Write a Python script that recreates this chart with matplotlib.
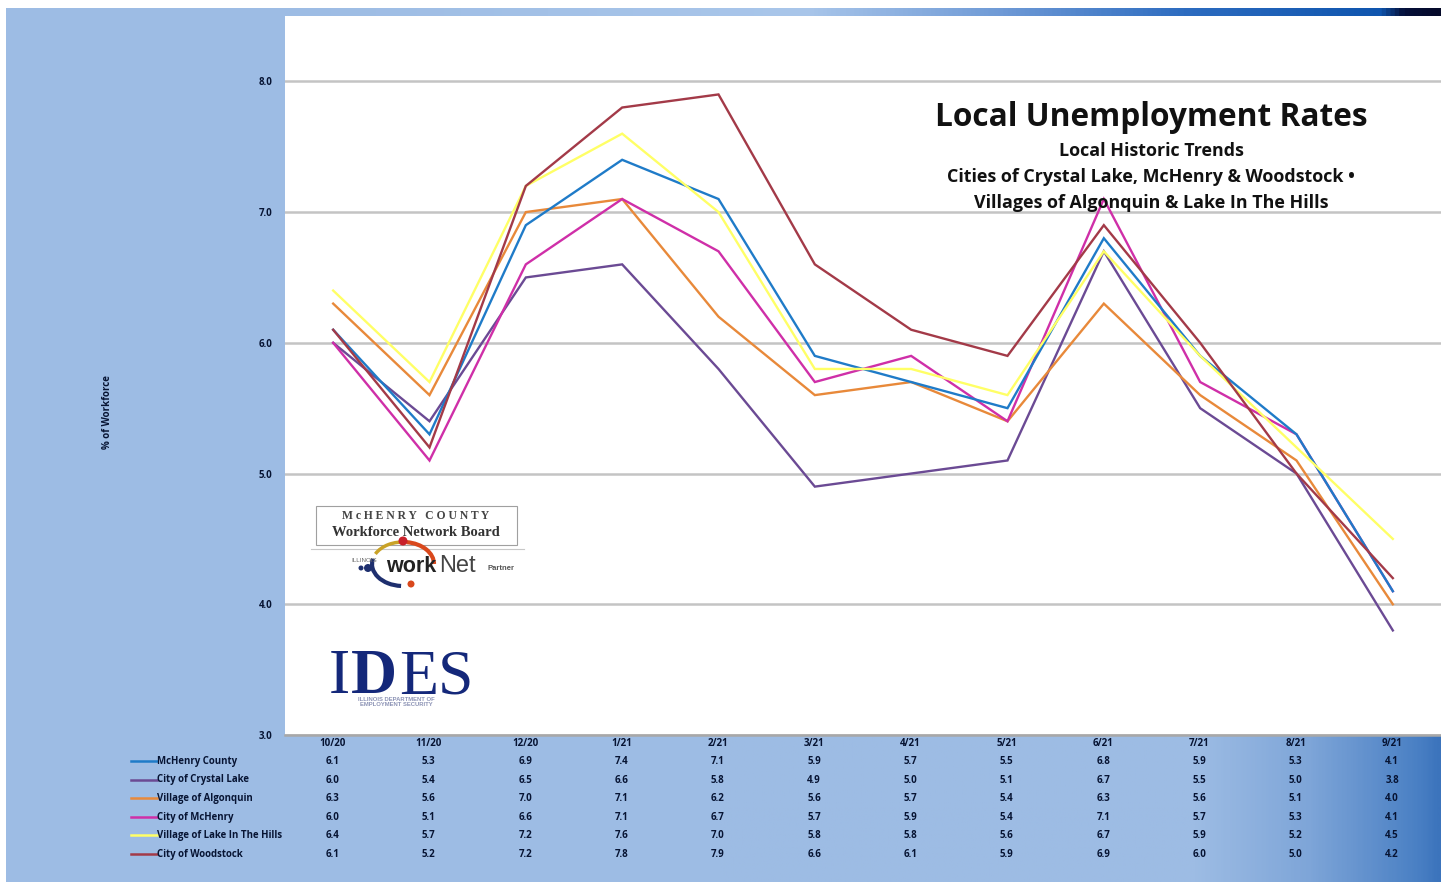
import numpy as np
import matplotlib
matplotlib.use("Agg")
import matplotlib.pyplot as plt
from matplotlib.colors import LinearSegmentedColormap
from matplotlib.patches import Rectangle, Arc, Circle

months = ["10/20","11/20","12/20","1/21","2/21","3/21","4/21","5/21","6/21","7/21","8/21","9/21"]
names = ["McHenry County","City of Crystal Lake","Village of Algonquin","City of McHenry","Village of Lake In The Hills","City of Woodstock"]
mchenry_county = [6.1,5.3,6.9,7.4,7.1,5.9,5.7,5.5,6.8,5.9,5.3,4.1]
crystal_lake   = [6.0,5.4,6.5,6.6,5.8,4.9,5.0,5.1,6.7,5.5,5.0,3.8]
algonquin      = [6.3,5.6,7.0,7.1,6.2,5.6,5.7,5.4,6.3,5.6,5.1,4.0]
city_mchenry   = [6.0,5.1,6.6,7.1,6.7,5.7,5.9,5.4,7.1,5.7,5.3,4.1]
lake_hills     = [6.4,5.7,7.2,7.6,7.0,5.8,5.8,5.6,6.7,5.9,5.2,4.5]
woodstock      = [6.1,5.2,7.2,7.8,7.9,6.6,6.1,5.9,6.9,6.0,5.0,4.2]
series = [mchenry_county,crystal_lake,algonquin,city_mchenry,lake_hills,woodstock]
colors = ["#1F7BC8","#6B4A94","#E8893A","#CF2FA8","#FFFF66","#A33A48"]
draw_order = [1,2,3,0,4,5]
yticks = [3,4,5,6,7,8]
W,H = 1441,884
FONT = ["Open Sans","DejaVu Sans"]
DK = "#071433"

fig = plt.figure(figsize=(W/100,H/100),dpi=100,facecolor="white")
bg = fig.add_axes([0,0,1,1],zorder=0)
bg.set_xlim(0,W); bg.set_ylim(H,0); bg.axis("off")
bg.add_patch(Rectangle((6,8),W-6,874,fc="#9DBCE4",ec="none"))
bot = LinearSegmentedColormap.from_list("b",[(0,"#9DBCE4"),(.66,"#9DBCE4"),(.82,"#7EA5D8"),(.97,"#4A80C4"),(1,"#3C74BC")])
bg.imshow(np.linspace(0,1,400)[None,:],cmap=bot,extent=(720,W,882,735),aspect="auto",zorder=1)
top = LinearSegmentedColormap.from_list("t",[(0,"#9DBCE4"),(.45,"#A9C6EA"),(.62,"#6F9AD6"),(.78,"#2D6CC0"),(.95,"#0F55AE"),(.97,"#05103A"),(1,"#050A2A")])
bg.imshow(np.linspace(0,1,800)[None,:],cmap=top,extent=(285,W,16,8),aspect="auto",zorder=1)
bg.set_xlim(0,W); bg.set_ylim(H,0)

ax = fig.add_axes([285/W,1-735/H,(W-285)/W,(735-16)/H],zorder=2,facecolor="white")
x = np.arange(len(months))
for i in draw_order:
    ax.plot(x,series[i],color=colors[i],lw=1.7,zorder=3,solid_joinstyle="miter")
ax.set_xlim(-0.5,len(months)-0.5)
ax.set_ylim(3,8.5)
ax.set_yticks(yticks)
ax.set_yticklabels([f"{v:.1f}" for v in yticks],fontsize=7,fontweight="bold",color=DK,family=FONT)
ax.tick_params(axis="y",length=0,pad=9)
ax.set_xticks([])
ax.grid(axis="y",color="#C4C4C4",lw=1.8)
ax.set_axisbelow(True)
for s in ["top","right","left"]:
    ax.spines[s].set_visible(False)
ax.spines["bottom"].set_color("#A8A8A8"); ax.spines["bottom"].set_linewidth(1.8)

# text layer in pixel coordinates
ov = fig.add_axes([0,0,1,1],zorder=3)
ov.set_xlim(0,W); ov.set_ylim(H,0); ov.axis("off"); ov.patch.set_alpha(0)
ov.text(107,412,"% of Workforce",rotation=90,ha="center",va="center",fontsize=7,fontweight="bold",color=DK,family=FONT)

for j,m in enumerate(months):
    px = ax.transData.transform((j,0))[0] - 0.7
    ov.text(px,743.5,m,ha="center",va="center",fontsize=7,fontweight="bold",color=DK,family=FONT)
    for i,s in enumerate(series):
        ov.text(px,761.5+i*18.6,f"{s[j]:.1f}",ha="center",va="center",fontsize=7,fontweight="bold",color=DK,family=FONT)
for i,n in enumerate(names):
    yy = 761+i*18.6
    ov.plot([131,157],[yy,yy],color=colors[i],lw=1.8)
    ov.text(157,yy+0.3,n,ha="left",va="center",fontsize=6.9,fontweight="bold",color=DK,family=FONT)

ov.text(1151,117,"Local Unemployment Rates",ha="center",va="center",fontsize=22.8,fontweight="bold",color="#111111",family=FONT)
ov.text(1151,151,"Local Historic Trends",ha="center",va="center",fontsize=12.9,fontweight="bold",color="#111111",family=FONT)
ov.text(1151,177,"Cities of Crystal Lake, McHenry & Woodstock •",ha="center",va="center",fontsize=12.9,fontweight="bold",color="#111111",family=FONT)
ov.text(1151,203,"Villages of Algonquin & Lake In The Hills",ha="center",va="center",fontsize=12.9,fontweight="bold",color="#111111",family=FONT)

# Workforce board logo
ov.add_patch(Rectangle((316,506),201,39,fc="white",ec="#A0A0A0",lw=0.8,zorder=4))
ov.plot([311,524],[549,549],color="#C8C8C8",lw=0.8,zorder=4)
ov.text(416,516,"M c H E N R Y   C O U N T Y",ha="center",va="center",fontsize=8.4,fontweight="bold",family="Liberation Serif",color="#444444",zorder=5)
ov.text(416,532,"Workforce Network Board",ha="center",va="center",fontsize=10.5,fontweight="bold",family="Liberation Serif",color="#333333",zorder=5)
ov.add_patch(Arc((403,564),62,44,theta1=95,theta2=190,color="#1E2F6E",lw=3,zorder=5))
ov.add_patch(Arc((403,564),62,44,theta1=200,theta2=280,color="#C9A227",lw=2.5,zorder=5))
ov.add_patch(Arc((403,564),62,44,theta1=280,theta2=360,color="#D9481C",lw=3,zorder=5))
ov.add_patch(Circle((403,541),4.5,fc="#C8202A",ec="none",zorder=5))
ov.add_patch(Circle((411,584),3.5,fc="#D9481C",ec="none",zorder=5))
ov.add_patch(Circle((368,568),4,fc="#1E2F6E",ec="none",zorder=5))
ov.add_patch(Circle((361,568),2.5,fc="#1E2F6E",ec="none",zorder=5))
ov.text(386,566,"work",ha="left",va="center",fontsize=15.5,fontweight="bold",family="Liberation Sans",color="#222222",zorder=6)
ov.text(439,566,"Net",ha="left",va="center",fontsize=17,family="Liberation Sans",color="#444444",zorder=6)
ov.text(488,569,"Partner",ha="left",va="center",fontsize=5.5,fontweight="bold",family="Liberation Sans",color="#555555",zorder=6)
ov.text(351,560,"ILLINOIS",ha="left",va="center",fontsize=4.5,family="Liberation Sans",color="#666666",zorder=6)

# IDES logo
ov.text(329,693,"I",ha="left",va="baseline",fontsize=46,family="Liberation Serif",color="#14287A",zorder=5)
ov.text(351,693,"D",ha="left",va="baseline",fontsize=46,fontweight="bold",family="Liberation Serif",color="#14287A",zorder=5)
ov.text(399,693,"ES",ha="left",va="baseline",fontsize=46,family="Liberation Serif",color="#14287A",zorder=5)
ov.text(396,702,"ILLINOIS DEPARTMENT OF\nEMPLOYMENT SECURITY",ha="center",va="center",fontsize=4.2,fontweight="bold",family="Liberation Sans",color="#8C93B5",linespacing=1.0,zorder=6)

fig.savefig("out.png",dpi=100,facecolor="white")
